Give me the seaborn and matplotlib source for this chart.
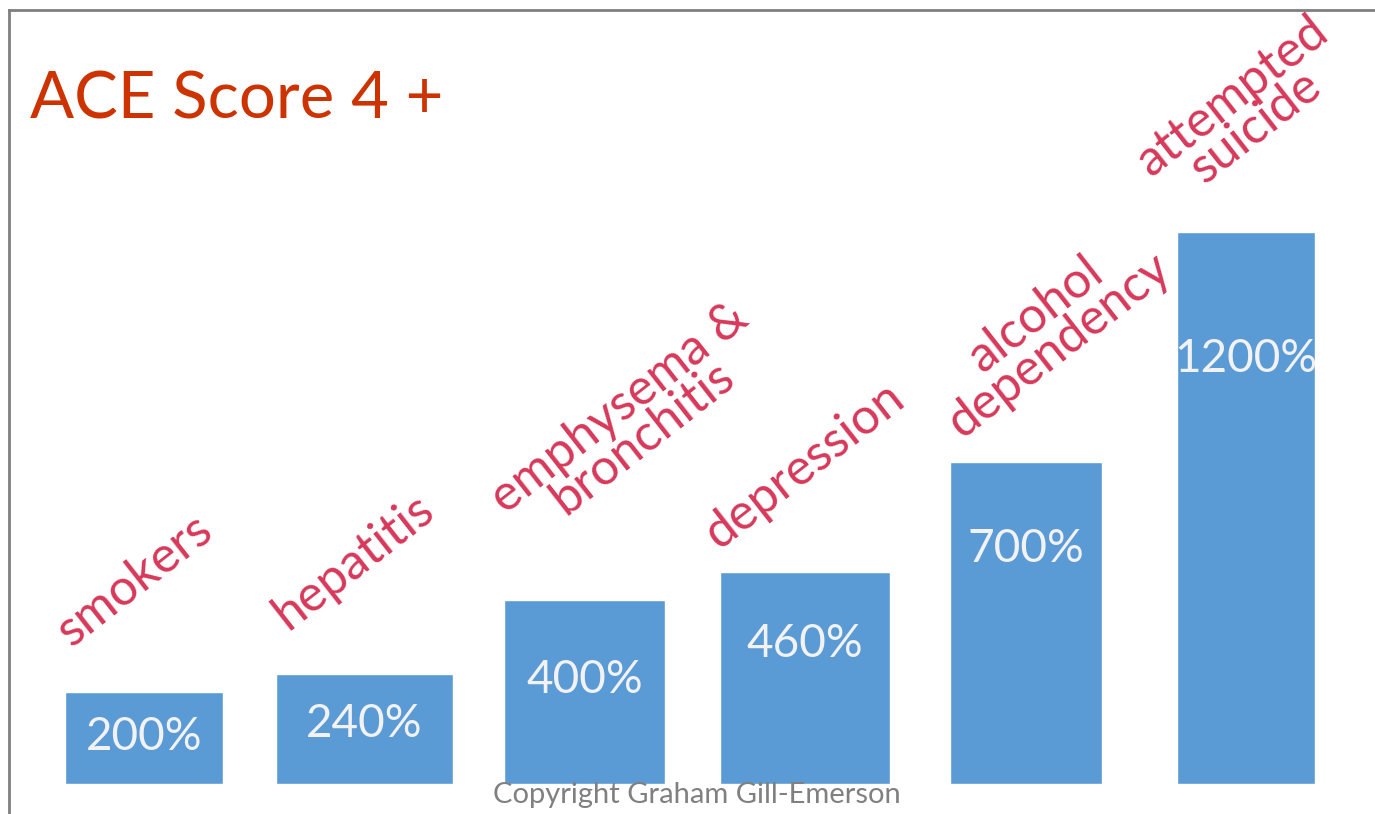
import matplotlib
matplotlib.use("Agg")
import matplotlib.pyplot as plt
import seaborn as sns
import pandas as pd

# data
categories = ['smokers', 'hepatitis', 'emphysema &\nbronchitis', 'depression',
              'alcohol\ndependency', 'attempted\nsuicide']
values = [200, 240, 400, 460, 700, 1200]
value_labels = ['200%', '240%', '400%', '460%', '700%', '1200%']

# layout tweaks (slide had hand-placed boxes)
bar_widths = [0.72, 0.80, 0.73, 0.77, 0.69, 0.63]
value_label_frac = [0.51, 0.54, 0.565, 0.66, 0.73, 0.77]
cat_label_offsets = [(-0.04, 243), (-0.05, 243), (0.21, 385), (0.0, 233), (0.10, 287), (-0.01, 262)]

sns.set_style('white')
plt.rcParams['font.family'] = ['Lato', 'DejaVu Sans']

df = pd.DataFrame({'category': categories, 'value': values})

fig = plt.figure(figsize=(13.75, 8.14), dpi=100)
ax = fig.add_axes([9 / 1375, 0, 1 - 9 / 1375, 804 / 814])

sns.barplot(data=df, x='category', y='value', color='#5B9BD5', saturation=1, ax=ax)

for patch, w in zip(ax.patches, bar_widths):
    cx = patch.get_x() + patch.get_width() / 2
    patch.set_width(w)
    patch.set_x(cx - w / 2)

ax.set_xlim(-0.6125, 5.585)
ax.set_ylim(-65.2, 1682.6)
ax.set_xticks([])
ax.set_yticks([])
ax.set_xlabel('')
ax.set_ylabel('')

for s in ['bottom', 'right']:
    ax.spines[s].set_visible(False)
for s in ['top', 'left']:
    ax.spines[s].set_color('#7F7F7F')
    ax.spines[s].set_linewidth(2)

for i, (v, lab, f) in enumerate(zip(values, value_labels, value_label_frac)):
    ax.text(i, v * f, lab, ha='center', va='center', fontsize=33, color='#F2F2F2')

for i, (v, cat, (dx, dy)) in enumerate(zip(values, categories, cat_label_offsets)):
    ax.text(i + dx, v + dy, cat, ha='center', va='center', rotation=38,
            rotation_mode='anchor', multialignment='center', linespacing=0.8,
            fontsize=36, color='#D7385A')

fig.text(30 / 1375, 1 - 100 / 814, 'ACE Score 4 +', ha='left', va='center',
         fontsize=47, color='#CC3300')
fig.text(697 / 1375, 1 - 795 / 814, 'Copyright Graham Gill-Emerson', ha='center',
         va='center', fontsize=21, color='#808080')

fig.savefig('out.png', dpi=100)
